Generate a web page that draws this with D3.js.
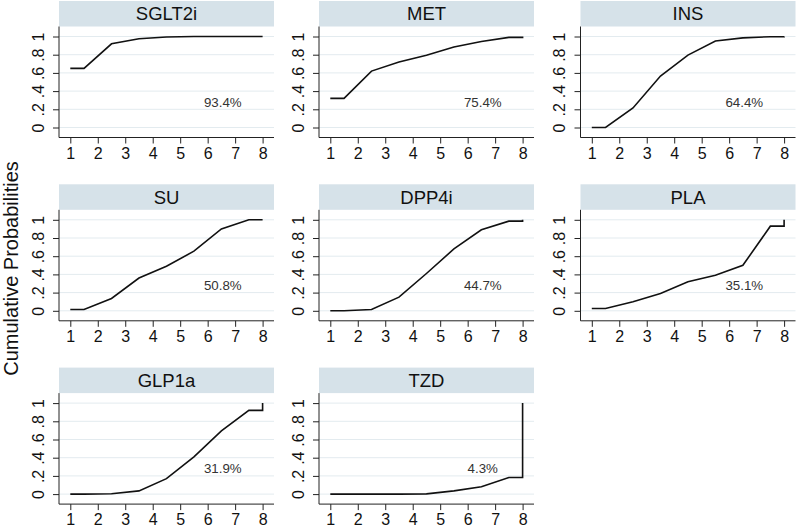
<!DOCTYPE html>
<html>
<head>
<meta charset="utf-8">
<script src="https://cdn.jsdelivr.net/npm/d3@7"></script>
<style>
  body { margin: 0; background: #fff; }
  svg { display: block; font-family: "Liberation Sans", Arial, sans-serif; }
</style>
</head>
<body>
<svg width="797" height="528"></svg>
<script>
// treatments, in panel order
var treatments = ["SGLT2i", "MET", "INS", "SU", "DPP4i", "PLA", "GLP1a", "TZD"];
var sucra = ["93.4%", "75.4%", "64.4%", "50.8%", "44.7%", "35.1%", "31.9%", "4.3%"];

// cumulative probability of being ranked 1..7 (rank 8 = 1)
var cumSGLT2i = [0.65, 0.92, 0.975, 0.995, 1.0, 1.0, 1.0];
var cumMET    = [0.32, 0.62, 0.72, 0.795, 0.885, 0.945, 0.99];
var cumINS    = [0.0, 0.215, 0.565, 0.795, 0.95, 0.985, 0.998];
var cumSU     = [0.015, 0.135, 0.36, 0.49, 0.655, 0.90, 1.0];
var cumDPP4i  = [0.0, 0.015, 0.15, 0.41, 0.68, 0.89, 0.985];
var cumPLA    = [0.025, 0.10, 0.19, 0.32, 0.39, 0.50, 0.93];
var cumGLP1a  = [0.0, 0.004, 0.035, 0.17, 0.41, 0.695, 0.92];
var cumTZD    = [0.0, 0.0, 0.0, 0.003, 0.035, 0.08, 0.183];
var cumData = [cumSGLT2i, cumMET, cumINS, cumSU, cumDPP4i, cumPLA, cumGLP1a, cumTZD];

var xTicks = [1, 2, 3, 4, 5, 6, 7, 8];
var yTicks = [0, 0.2, 0.4, 0.6, 0.8, 1];

var colX = [59, 319, 580.5],
    rowY = [1, 184.3, 367.6],
    panelW = 215,
    stripH = 25.5,
    plotH = 111;

var svg = d3.select("svg");

function yFmt(d) {
    if (d === 0) return "0";
    if (d === 1) return "1";
    return d3.format(".1f")(d).replace(/^0/, "");
}

treatments.forEach(function(name, i) {
    var left = colX[i % 3],
        top = rowY[Math.floor(i / 3)];
    var g = svg.append("g").attr("transform", "translate(" + left + "," + top + ")");

    var x = d3.scaleLinear().domain([1, 8]).range([11.3, 203.6]);
    var y = d3.scaleLinear().domain([0, 1]).range([stripH + 101, stripH + 10]);

    // strip header
    g.append("rect")
        .attr("x", 0).attr("y", 0)
        .attr("width", panelW).attr("height", stripH)
        .attr("fill", "#d6e2e9");
    g.append("text")
        .attr("x", panelW / 2).attr("y", stripH / 2 + 6.5)
        .attr("text-anchor", "middle")
        .attr("font-size", 18.5)
        .attr("fill", "#111")
        .text(name);

    // grid
    g.selectAll(".grid").data(yTicks).enter().append("line")
        .attr("x1", 0).attr("x2", panelW)
        .attr("y1", function(d) { return y(d); })
        .attr("y2", function(d) { return y(d); })
        .attr("stroke", "#e3ebef").attr("stroke-width", 1);

    // axes
    var ya = g.append("g").call(d3.axisLeft(y).tickValues(yTicks).tickFormat(yFmt).tickSize(6).tickSizeOuter(0));
    ya.select(".domain").remove();
    ya.selectAll(".tick line").attr("stroke", "#222");
    ya.selectAll(".tick text")
        .attr("x", null).attr("dy", null)
        .attr("transform", "translate(-15.5,0) rotate(-90)")
        .attr("text-anchor", "middle")
        .attr("font-size", 16)
        .attr("font-family", "Liberation Sans, Arial, sans-serif")
        .attr("fill", "#111");
    g.append("line")
        .attr("x1", 0).attr("x2", 0)
        .attr("y1", stripH).attr("y2", stripH + plotH)
        .attr("stroke", "#222");

    var xa = g.append("g")
        .attr("transform", "translate(0," + (stripH + plotH) + ")")
        .call(d3.axisBottom(x).tickValues(xTicks).tickFormat(d3.format("d")).tickSize(6).tickSizeOuter(0));
    xa.select(".domain").remove();
    xa.selectAll(".tick line").attr("stroke", "#222");
    xa.selectAll(".tick text")
        .attr("y", 10)
        .attr("font-size", 16)
        .attr("font-family", "Liberation Sans, Arial, sans-serif")
        .attr("fill", "#111");
    g.append("line")
        .attr("x1", 0).attr("x2", panelW)
        .attr("y1", stripH + plotH).attr("y2", stripH + plotH)
        .attr("stroke", "#222");

    // curve: flat from 1 to 1.5, then mid-rank points, flat to 8, jump to 1
    var c = cumData[i];
    var pts = [[1, c[0]], [1.5, c[0]]];
    for (var k = 1; k < c.length; k++) pts.push([k + 1.5, c[k]]);
    pts.push([8, c[c.length - 1]]);
    pts.push([8, 1]);

    var line = d3.line()
        .x(function(d) { return x(d[0]); })
        .y(function(d) { return y(d[1]); });
    g.append("path")
        .datum(pts)
        .attr("d", line)
        .attr("fill", "none")
        .attr("stroke", "#111")
        .attr("stroke-width", 1.6);

    g.append("text")
        .attr("x", x(6.55)).attr("y", y(0.28) + 4.5)
        .attr("text-anchor", "middle")
        .attr("font-size", 13.3)
        .attr("fill", "#333")
        .text(sucra[i]);
});

svg.append("text")
    .attr("transform", "translate(18,268.5) rotate(-90)")
    .attr("text-anchor", "middle")
    .attr("font-size", 20)
    .attr("fill", "#111")
    .text("Cumulative Probabilities");
</script>
</body>
</html>
